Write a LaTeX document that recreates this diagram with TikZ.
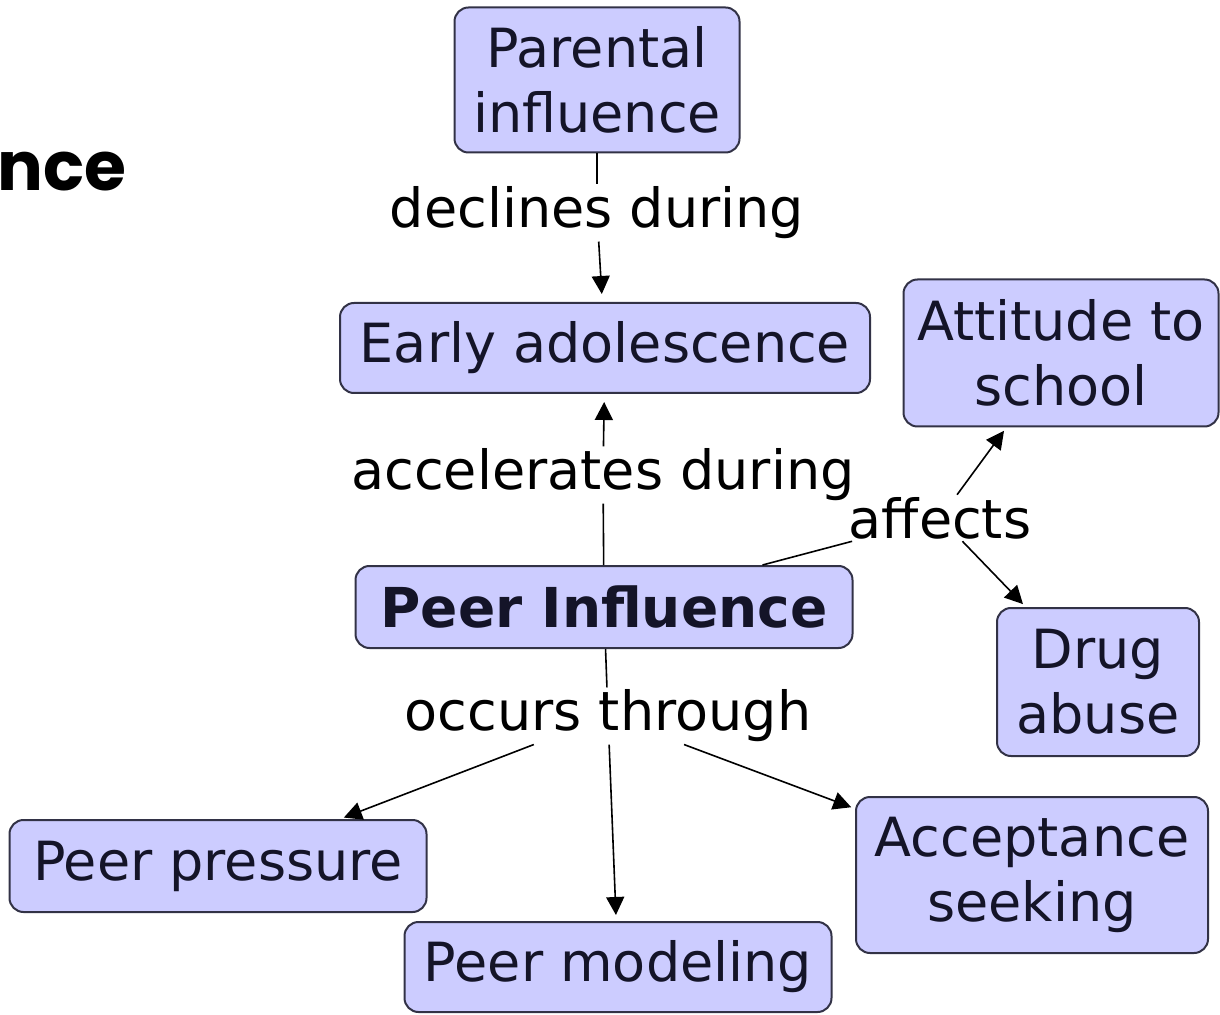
\documentclass[tikz,border=0pt]{standalone}
\usepackage{fontspec}
\setmainfont{DejaVu Sans}
\newfontfamily\comicfont{Poppins}
\usetikzlibrary{arrows.meta}
\definecolor{boxfill}{RGB}{204,204,255}
\definecolor{boxline}{RGB}{50,50,70}
\definecolor{txt}{RGB}{20,20,40}
\tikzset{
  px/.style={x=0.5pt,y=-0.5pt},
  cbox/.style={draw=boxline, fill=boxfill, line width=1pt, rounded corners=7pt,
    inner sep=0pt, align=center, text=txt, font=\fontsize{27}{32.5}\selectfont},
  lbl/.style={inner sep=1pt, align=center, text=black, font=\fontsize{27}{32.5}\selectfont},
  conn/.style={draw=black, line width=0.8pt},
  arr/.style={conn, -{Triangle[length=9pt,width=9pt]}}
}
\begin{document}
\begin{tikzpicture}[px]
\useasboundingbox (0,0) rectangle (1220,1015);
\node[anchor=east, inner sep=0pt, font=\comicfont\bfseries\fontsize{34}{38}\selectfont] (title) at (127,172) {nce};

\node[cbox, minimum width=142.5pt, minimum height=72.5pt] (par) at (597,80) {Parental\\influence};
\node[cbox, minimum width=265pt, minimum height=45pt] (early) at (605,348) {Early adolescence};
\node[cbox, minimum width=157.5pt, minimum height=73.5pt] (att) at (1061,353) {Attitude to\\school};
\node[cbox, minimum width=248.5pt, minimum height=41pt, font=\fontsize{27.5}{32.5}\selectfont\bfseries] (peer) at (604,607) {Peer Influence};
\node[cbox, minimum width=101pt, minimum height=74pt] (drug) at (1098,682) {Drug\\abuse};
\node[cbox, minimum width=208.5pt, minimum height=46pt] (pp) at (218,866) {Peer pressure};
\node[cbox, minimum width=213.5pt, minimum height=45pt] (pm) at (618,967) {Peer modeling};
\node[cbox, minimum width=176pt, minimum height=78pt] (acc) at (1032,875) {Acceptance\\seeking};

\node[lbl] (dec) at (597,213) {declines during};
\node[lbl] (accel) at (603,475) {accelerates during};
\node[lbl] (aff) at (940,518) {affects};
\node[lbl] (occ) at (608,716) {occurs through};

\draw[conn] (par) -- (dec);
\draw[arr, shorten >=4pt] (dec) -- (early);
\draw[conn] (peer) -- (accel);
\draw[arr, shorten >=4pt] (accel) -- (early);
\draw[conn] (peer) -- (aff);
\draw[arr, shorten >=2pt] (aff) -- (att);
\draw[arr, shorten >=2pt] (aff) -- (drug);
\draw[conn] (peer) -- (occ);
\draw[arr, shorten >=2pt] (occ) -- (pp);
\draw[arr, shorten >=3pt] (occ) -- (pm);
\draw[arr, shorten >=2pt] (occ) -- (acc);
\end{tikzpicture}
\end{document}
